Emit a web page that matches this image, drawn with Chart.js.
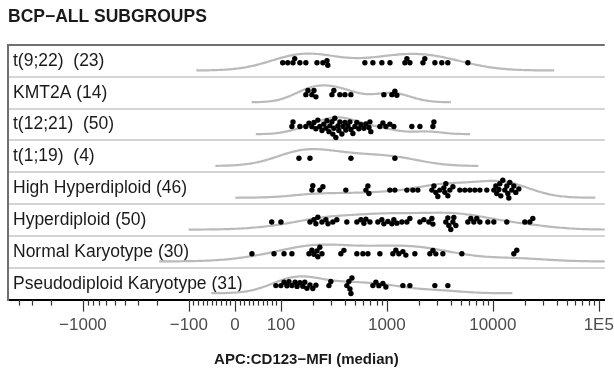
<!DOCTYPE html>
<html>
<head>
<meta charset="utf-8">
<script src="https://cdn.jsdelivr.net/npm/chart.js@4.4.1/dist/chart.umd.min.js"></script>
<style>
  html, body { margin: 0; padding: 0; background: #fff; }
</style>
</head>
<body>
<canvas id="myChart" width="614" height="377"></canvas>
<script>
// row labels, top to bottom
var groups = ["t(9;22)  (23)", "KMT2A (14)", "t(12;21)  (50)", "t(1;19)  (4)",
  "High Hyperdiploid (46)", "Hyperdiploid (50)", "Normal Karyotype (30)", "Pseudodiploid Karyotype (31)"]

// APC:CD123 MFI (median), one value per patient
var t922 = [104, 116, 130, 135, 151, 172, 219, 249, 272, 277, 620, 738, 897, 1070, 1480, 1545, 1650, 2190, 2280, 2840, 3300, 3760, 5810]
var kmt2a = [172, 180, 196, 205, 214, 303, 316, 360, 402, 457, 937, 1115, 1190, 1242]
var t1221 = [127, 130, 151, 172, 184, 196, 205, 214, 223, 233, 244, 254, 266, 272, 284, 290, 303, 309, 316, 323,
  330, 345, 352, 360, 376, 385, 402, 410, 429, 448, 458, 478, 499, 521, 544, 569, 607, 634, 677, 692,
  706, 859, 917, 979, 1067, 1164, 1720, 2050, 2720, 2780]
var t119 = [148, 188, 458, 1190]
var highHyper = [196, 200, 233, 249, 410, 634, 662, 677, 1067, 1190, 1545, 1758, 1960, 2659, 2780, 2899, 3027, 3162, 3449, 3525,
  3602, 3762, 3929, 4198, 4884, 5445, 6068, 6766, 7542, 8775, 10220, 10670, 10900, 11400, 11640, 11890, 12420, 12970, 13550, 13860,
  14160, 14470, 15110, 15780, 16480, 17590]
var hyper = [80, 100, 188, 205, 214, 223, 244, 266, 278, 309, 337, 419, 521, 569, 607, 634, 692, 822, 897, 937,
  1022, 1115, 1164, 1243, 1385, 1545, 1648, 2050, 2235, 2490, 2659, 2720, 3602, 3762, 3845, 4015, 4198, 4287, 4477, 5808,
  6199, 6616, 7063, 7542, 8970, 10220, 13550, 20040, 22340, 23850]
var normalKaryo = [37, 85, 107, 127, 184, 196, 205, 219, 223, 233, 244, 368, 393, 521, 594, 662, 859, 1139, 1216, 1297,
  1416, 1511, 1837, 2546, 2720, 2899, 3375, 5101, 15780, 16830]
var pseudoKaryo = [89, 100, 107, 114, 119, 127, 136, 142, 151, 161, 168, 176, 188, 200, 214, 284, 296, 419, 438, 448,
  458, 468, 738, 788, 840, 917, 979, 1416, 1648, 2838, 3762]

var rows = [t922, kmt2a, t1221, t119, highHyper, hyper, normalKaryo, pseudoKaryo]

// axis ticks
var majorTicks = [-1000, -100, 0, 100, 1000, 10000, 100000]
var majorLabels = ["\u22121000", "\u2212100", "0", "100", "1000", "10000", "1E5"]
var minorTicks = [-4000, -3000, -2000,
  -900, -800, -700, -600, -500, -400, -300, -200,
  -90, -80, -70, -60, -50, -40, -30, -20, -10,
  10, 20, 30, 40, 50, 60, 70, 80, 90,
  200, 300, 400, 500, 600, 700, 800, 900,
  2000, 3000, 4000, 5000, 6000, 7000, 8000, 9000,
  20000, 30000, 40000, 50000, 60000, 70000, 80000, 90000]

//helpers
var LN10 = Math.log(10)
// linear below 100, log above (symmetric)
function tr(v){
  var a = Math.abs(v)
  if (a <= 100) return v / (100 * LN10)
  return Math.sign(v) * (1 / LN10 + Math.log10(a / 100))
}

var PX = 106      // px per decade, roughly
var ROWPX = 32    // px per row, roughly
var DOT = 4.6     // dot spacing for the swarm
var DOTY = 0.56, BASE = 0.80, HEIGHT = 0.53
var XMIN = -227 / PX, XMAX = 370 / PX

function average(data){
  return data.reduce(function(s, v){ return s + v }, 0) / data.length
}
function quantile(sorted, p){
  var h = (sorted.length - 1) * p, lo = Math.floor(h)
  var hi = Math.min(lo + 1, sorted.length - 1)
  return sorted[lo] + (h - lo) * (sorted[hi] - sorted[lo])
}
// R's bw.nrd0
function bandwidth(xs){
  var n = xs.length, m = average(xs)
  var sd = Math.sqrt(xs.reduce(function(s, x){ return s + (x - m) * (x - m) }, 0) / (n - 1))
  var s = xs.slice().sort(function(a, b){ return a - b })
  var iqr = (quantile(s, 0.75) - quantile(s, 0.25)) / 1.34
  var lo = Math.min(sd, iqr)
  if (!lo) lo = sd || 1
  return 0.9 * lo * Math.pow(n, -0.2)
}

function ridge(values, row){
  var xs = values.map(tr)
  var bw = bandwidth(xs)
  var from = Math.min.apply(0, xs) - 3 * bw
  var to = Math.max.apply(0, xs) + 3 * bw
  var pts = [], max = 0, N = 180
  for (var i = 0; i <= N; i++){
    var x = from + (to - from) * i / N
    var d = 0
    xs.forEach(function(xi){ var z = (x - xi) / bw; d += Math.exp(-0.5 * z * z) })
    pts.push({x: x, d: d})
    if (d > max) max = d
  }
  return pts.map(function(p){ return {x: p.x, y: row + BASE - HEIGHT * p.d / max} })
}

function swarm(values, row){
  var xs = values.map(tr)
  var order = xs.map(function(x, i){ return i }).sort(function(a, b){ return xs[a] - xs[b] })
  var placed = [], out = []
  order.forEach(function(i){
    var x = xs[i] * PX
    var near = placed.filter(function(p){ return Math.abs(p.x - x) < DOT })
    var cands = [0]
    near.forEach(function(p){
      var dy = Math.sqrt(DOT * DOT - (p.x - x) * (p.x - x))
      cands.push(p.y - dy, p.y + dy)
    })
    cands.sort(function(a, b){ return Math.abs(a) - Math.abs(b) || a - b })
    var y = cands.find(function(c){
      return near.every(function(p){ return (p.x - x) * (p.x - x) + (p.y - c) * (p.y - c) >= DOT * DOT - 1e-6 })
    })
    placed.push({x: x, y: y})
    out.push({x: xs[i], y: row + DOTY + y / ROWPX})
  })
  return out
}

var dots = []
rows.forEach(function(r, i){ dots = dots.concat(swarm(r, i)) })

var datasets = [{
  label: 'dots',
  data: dots,
  pointRadius: 2.7,
  pointBackgroundColor: '#000',
  pointBorderWidth: 0,
  showLine: false,
  order: 0
}]
rows.forEach(function(r, i){
  datasets.push({
    label: groups[i],
    data: ridge(r, i),
    showLine: true,
    borderColor: '#bababa',
    borderWidth: 2.2,
    pointRadius: 0,
    tension: 0,
    order: 1
  })
})

var tickMarks = {
  id: 'tickMarks',
  afterDraw: function(chart){
    var xs = chart.scales.x, ctx = chart.ctx, y0 = xs.top
    ctx.save()
    ctx.strokeStyle = '#333'
    ctx.lineWidth = 1.2
    majorTicks.concat(minorTicks).forEach(function(v, i){
      var len = i < majorTicks.length ? 12 : 6
      var px = Math.round(xs.getPixelForValue(tr(v))) + 0.5
      ctx.beginPath()
      ctx.moveTo(px, y0)
      ctx.lineTo(px, y0 + len)
      ctx.stroke()
    })
    ctx.restore()
  }
}

Chart.defaults.font.family = "'Liberation Sans', Arial, sans-serif"

var ctx = document.getElementById('myChart').getContext('2d')
var chart = new Chart(ctx, {
  type: 'scatter',
  data: { datasets: datasets },
  options: {
    responsive: false,
    animation: false,
    layout: { padding: { left: -2, right: 9, top: 0, bottom: 0 } },
    plugins: {
      legend: { display: false },
      tooltip: { enabled: false },
      title: {
        display: true,
        fullSize: false,
        text: 'BCP\u2212ALL SUBGROUPS',
        align: 'start',
        color: '#1a1a1a',
        font: { size: 17.5, weight: 'bold' },
        padding: { top: 7, bottom: 17 }
      }
    },
    scales: {
      x: {
        type: 'linear',
        min: XMIN,
        max: XMAX,
        afterBuildTicks: function(scale){
          scale.ticks = majorTicks.map(function(v){ return {value: tr(v)} })
        },
        ticks: {
          autoSkip: false,
          maxRotation: 0,
          padding: 0,
          color: '#4d4d4d',
          font: { size: 17 },
          callback: function(v, i){ return majorLabels[i] }
        },
        grid: { display: true, drawOnChartArea: false, drawTicks: true, tickLength: 16, tickColor: 'rgba(0,0,0,0)' },
        border: { display: true, color: '#000', width: 2 },
        title: {
          display: true,
          text: 'APC:CD123\u2212MFI (median)',
          color: '#1a1a1a',
          font: { size: 15, weight: 'bold' },
          padding: { top: 15, bottom: 8 }
        }
      },
      y: {
        type: 'linear',
        min: 0,
        max: 8,
        reverse: true,
        position: { x: XMIN },
        afterBuildTicks: function(scale){
          scale.ticks = [0, 1, 2, 3, 4, 5, 6, 7, 8].map(function(v){ return {value: v} })
        },
        ticks: { display: false },
        grid: {
          drawTicks: false,
          lineWidth: 2,
          color: function(c){ return c.tick && c.tick.value === 0 ? '#707070' : '#d4d4d4' }
        },
        border: { display: true, color: '#707070', width: 2 }
      },
      yl: {
        type: 'linear',
        min: 0,
        max: 8,
        reverse: true,
        position: 'left',
        afterBuildTicks: function(scale){
          scale.ticks = groups.map(function(g, i){ return {value: i + 0.5} })
        },
        ticks: {
          mirror: true,
          padding: 5,
          color: '#1a1a1a',
          font: { size: 17.5 },
          callback: function(v, i){ return groups[i] }
        },
        grid: { display: false, drawTicks: false },
        border: { display: false }
      }
    }
  },
  plugins: [tickMarks]
})
</script>
</body>
</html>
